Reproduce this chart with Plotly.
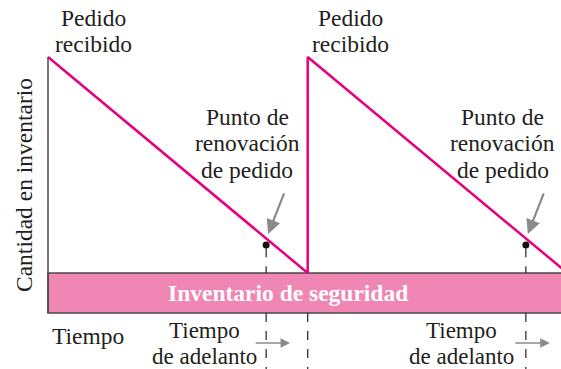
import plotly.graph_objects as go

# Ciclo de inventario: tiempo en ciclos, cantidad en unidades sobre el inventario de seguridad
tiempo = [0, 1, 1, 2]
cantidad = [100, 0, 100, 0]
pedidos_recibidos = [0, 1]
tiempos_renovacion = [0.84, 1.84]
punto_renovacion = 13
inventario_seguridad = 18.5

MAGENTA = '#e6007e'
ROSA = '#f086b4'
TEXTO = '#231f20'
GRIS = '#8a8a8a'
BORDE = '#4a4a4a'
FUENTE = 'Liberation Serif'
TAM = 23.5

W, H = 561, 369
# escala: 259.7 px por ciclo, 2.16 px por unidad
PX_T, PX_Q = 259.7, 2.16
x_range = [-48 / PX_T, (W - 48) / PX_T]
y_range = [(273 - H) / PX_Q, 273 / PX_Q]


def py(p):
    # posicion vertical en pixeles -> coordenada de papel
    return 1 - p / H


fig = go.Figure()

# diente de sierra del inventario
fig.add_trace(go.Scatter(
    x=tiempo, y=cantidad, mode='lines',
    line=dict(color=MAGENTA, width=2.5),
    hoverinfo='skip', showlegend=False
))

# puntos de renovacion de pedido
fig.add_trace(go.Scatter(
    x=tiempos_renovacion, y=[punto_renovacion] * len(tiempos_renovacion),
    mode='markers', marker=dict(color='#111111', size=7),
    hoverinfo='skip', showlegend=False
))

shapes = []
# banda de inventario de seguridad
shapes.append(dict(
    type='rect', xref='x', yref='y', x0=0, x1=x_range[1] + 0.2,
    y0=-inventario_seguridad, y1=0, fillcolor=ROSA,
    line=dict(color=BORDE, width=1.5), layer='below'
))
# eje vertical
shapes.append(dict(
    type='line', xref='x', yref='y', x0=0, x1=0,
    y0=-inventario_seguridad, y1=max(cantidad),
    line=dict(color=BORDE, width=1.5), layer='below'
))
dash = dict(color='#222222', width=1.2, dash='dash')
for t in tiempos_renovacion:
    shapes.append(dict(type='line', xref='x', yref='y', x0=t, x1=t,
                       y0=punto_renovacion - 1.5, y1=0, line=dash))
    shapes.append(dict(type='line', xref='x', yref='y', x0=t, x1=t,
                       y0=-inventario_seguridad, y1=y_range[0], line=dash))
for t in pedidos_recibidos[1:] + [2]:
    shapes.append(dict(type='line', xref='x', yref='y', x0=t, x1=t,
                       y0=-inventario_seguridad, y1=y_range[0], line=dash))

ann = []


def texto(txt, x, xshift, ypix, size=TAM, color=TEXTO, bold=False, angle=0, xref='x'):
    ann.append(dict(
        text=f'<b>{txt}</b>' if bold else txt,
        x=x, xref=xref, xshift=xshift, y=py(ypix), yref='paper',
        xanchor='center', yanchor='middle', showarrow=False, borderpad=0,
        textangle=angle, font=dict(family=FUENTE, size=size, color=color)
    ))


for t, dx in zip(pedidos_recibidos, [45, 43]):
    texto('Pedido', t, dx, 18)
    texto('recibido', t, dx, 44)

for t, dx in zip(tiempos_renovacion, [-19, -23]):
    texto('Punto de', t, dx, 117)
    texto('renovación', t, dx, 143)
    texto('de pedido', t, dx, 170)
    # flecha hacia el punto de renovacion
    ann.append(dict(
        x=t + 2 / PX_T, y=punto_renovacion + 11 / PX_Q, xref='x', yref='y',
        ax=t + 18.5 / PX_T, ay=punto_renovacion + 53 / PX_Q, axref='x', ayref='y',
        showarrow=True, arrowhead=2, arrowsize=1.3, arrowwidth=2.2,
        arrowcolor=GRIS, text=''
    ))

for t, dx in zip(tiempos_renovacion, [-62, -64]):
    texto('Tiempo', t, dx, 330.5, size=23)
    texto('de adelanto', t, dx, 356, size=23)
    # flecha del tiempo de adelanto
    ann.append(dict(
        x=t + 24 / PX_T, y=-70 / PX_Q, xref='x', yref='y',
        ax=t - 12 / PX_T, ay=-70 / PX_Q, axref='x', ayref='y',
        showarrow=True, arrowhead=2, arrowsize=1.2, arrowwidth=1.6,
        arrowcolor=GRIS, text=''
    ))

texto('Tiempo', 0, 40, 336)
texto('Inventario de seguridad', 0, 240, 293, color='white', bold=True)
texto('Cantidad en inventario', 24 / W, 0, 185, angle=-90, xref='paper')

fig.update_layout(
    width=W, height=H,
    margin=dict(l=0, r=0, t=0, b=0),
    paper_bgcolor='white', plot_bgcolor='white',
    xaxis=dict(range=x_range, visible=False, fixedrange=True),
    yaxis=dict(range=y_range, visible=False, fixedrange=True),
    shapes=shapes, annotations=ann, showlegend=False
)

fig.write_html("out.html", config={'displayModeBar': False},
               post_script="document.body.style.margin='0';document.body.style.overflow='hidden';")
